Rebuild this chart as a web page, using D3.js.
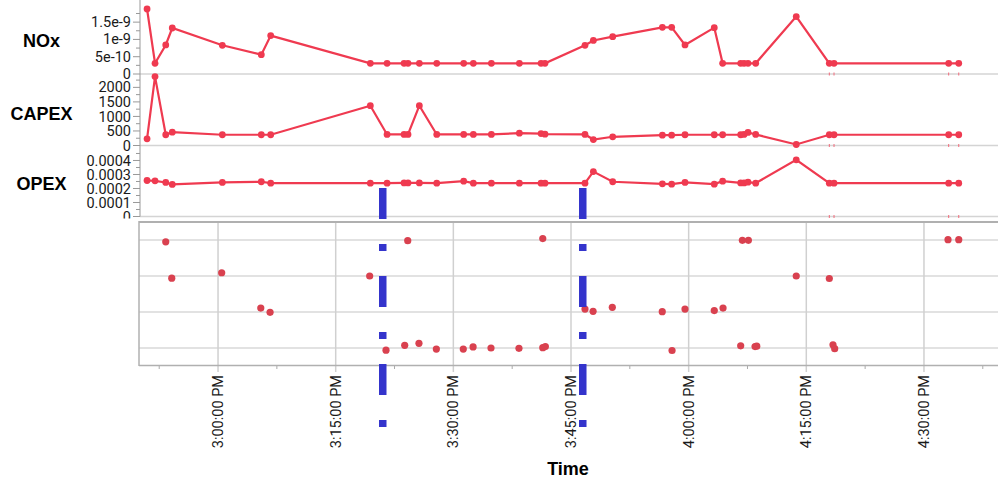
<!DOCTYPE html>
<html>
<head>
<meta charset="utf-8">
<script src="https://cdn.jsdelivr.net/npm/d3@7"></script>
<style>
  body { margin: 0; background: #fff; }
  svg { display: block; }
  .tick-label { font-family: Roboto, "Noto Sans", sans-serif; fill: #1a1a1a; }
  .panel-label { font-family: "Liberation Sans", Arial, sans-serif; font-weight: bold; font-size: 18px; fill: #000; }
</style>
</head>
<body>
<div id="vis_container"></div>
<script>
// sample times shared by the three line panels
var times = ["14:50:57","14:51:58","14:53:20","14:54:10","15:00:33","15:05:31","15:06:43","15:19:25",
    "15:21:33","15:23:43","15:24:13","15:25:40","15:27:53","15:31:19","15:32:33","15:34:51","15:38:25",
    "15:41:11","15:41:41","15:46:47","15:47:51","15:50:19","15:56:39","15:57:50","15:59:32","16:03:16",
    "16:04:20","16:06:38","16:07:04","16:07:34","16:08:33","16:13:43","16:17:56","16:18:32","16:33:09","16:34:26"];

var nox = [1.88e-9, 3.1e-10, 8.4e-10, 1.33e-9, 8.3e-10, 5.6e-10, 1.11e-9,
    3.1e-10, 3.1e-10, 3.1e-10, 3.1e-10, 3.1e-10, 3.1e-10, 3.1e-10, 3.1e-10, 3.1e-10, 3.1e-10, 3.1e-10, 3.1e-10,
    8.3e-10, 9.7e-10, 1.08e-9, 1.35e-9, 1.35e-9, 8.4e-10, 1.34e-9,
    3.1e-10, 3.1e-10, 3.1e-10, 3.1e-10, 3.1e-10, 1.66e-9, 3.1e-10, 3.1e-10, 3.1e-10, 3.1e-10];

var capex = [230, 2370, 370, 460, 370, 370, 370, 1370, 380, 380, 380, 1370, 380, 380, 380, 380, 425, 410,
    390, 380, 205, 300, 355, 355, 370, 370, 370, 370, 380, 450, 380, 35, 370, 370, 370, 370];

var opex = [2.57e-4, 2.55e-4, 2.43e-4, 2.29e-4, 2.43e-4, 2.48e-4, 2.38e-4, 2.38e-4, 2.38e-4, 2.4e-4,
    2.4e-4, 2.4e-4, 2.38e-4, 2.52e-4, 2.38e-4, 2.38e-4, 2.38e-4, 2.38e-4, 2.38e-4, 2.38e-4, 3.21e-4,
    2.48e-4, 2.33e-4, 2.31e-4, 2.43e-4, 2.31e-4, 2.52e-4, 2.4e-4, 2.4e-4, 2.45e-4, 2.38e-4, 4.05e-4,
    2.38e-4, 2.38e-4, 2.38e-4, 2.38e-4];

// bottom panel: category level (1..4 from bottom, jittered) per time
var catTimes = ["14:53:20","14:54:06","15:00:28","15:05:27","15:06:38","15:19:20","15:21:25","15:23:48",
    "15:24:11","15:25:37","15:27:50","15:31:16","15:32:31","15:34:48","15:38:22","15:41:24","15:41:24",
    "15:41:44","15:46:47","15:47:49","15:50:16","15:56:38","15:57:53","15:59:32","16:03:16","16:04:23",
    "16:06:38","16:06:51","16:07:37","16:08:28","16:08:41","16:13:43","16:17:56","16:18:24","16:18:37",
    "16:33:04","16:34:26"];
var catLevel = [3.45, 2.44, 2.59, 1.61, 1.49, 2.5, 0.44, 0.575, 3.48, 0.63, 0.47, 0.47, 0.53, 0.5, 0.49,
    3.54, 0.51, 0.54, 1.58, 1.52, 1.63, 1.51, 0.43, 1.58, 1.54, 1.61, 0.56, 3.49, 3.49, 0.54, 0.55, 2.5,
    2.43, 0.59, 0.48, 3.51, 3.51];

// reference lines and rug marks
var markerTimes = ["15:21:00", "15:46:30"];
var rugTimes = ["16:17:56", "16:18:32", "16:33:09", "16:34:26"];

var noxTicks = [0, 5e-10, 1e-9, 1.5e-9];
var noxLabels = ["0", "5e-10", "1e-9", "1.5e-9"];
var capexTicks = [0, 500, 1000, 1500, 2000];
var capexLabels = ["0", "500", "1000", "1500", "2000"];
var opexTicks = [0, 0.0001, 0.0002, 0.0003, 0.0004];
var opexLabels = ["0", "0.0001", "0.0002", "0.0003", "0.0004"];

var width = 998, height = 479;
var parse = d3.timeParse("%H:%M:%S");
var red = "#ef3a50";

var x = d3.scaleTime()
    .domain([parse("14:50:00"), parse("16:40:00")])
    .range([139.6, 1002.4]);

var svg = d3.select("#vis_container").append("svg")
    .attr("width", width)
    .attr("height", height);

var panels = [
    {name: "NOx", values: nox, ticks: noxTicks, labels: noxLabels, top: 0, bottom: 74, max: 2.14e-9, labelY: 47},
    {name: "CAPEX", values: capex, ticks: capexTicks, labels: capexLabels, top: 74, bottom: 145.5, max: 2460, labelY: 120},
    {name: "OPEX", values: opex, ticks: opexTicks, labels: opexLabels, top: 145.5, bottom: 216.5, max: 0.000507, labelY: 189.5}
];

panels.forEach(function(p) {
    var y = d3.scaleLinear().domain([0, p.max]).range([p.bottom, p.top]);
    var g = svg.append("g");
    var step = p.ticks[1] / 2;
    var minor = d3.range(step, p.max, step * 2);

    // baseline / separator
    g.append("line")
        .attr("x1", 140).attr("x2", width)
        .attr("y1", p.bottom).attr("y2", p.bottom)
        .style("stroke", "#d4d4d4").style("stroke-width", 1.5);

    g.selectAll(".minor").data(minor).enter().append("line")
        .attr("x1", 136).attr("x2", 140)
        .attr("y1", function(d) { return y(d); }).attr("y2", function(d) { return y(d); })
        .style("stroke", "#999");

    g.selectAll(".major").data(p.ticks).enter().append("line")
        .attr("x1", 133).attr("x2", 140)
        .attr("y1", function(d) { return y(d); }).attr("y2", function(d) { return y(d); })
        .style("stroke", "#999");

    g.selectAll(".tick-label").data(p.ticks).enter().append("text")
        .attr("class", "tick-label")
        .attr("x", 131)
        .attr("y", function(d) { return y(d); })
        .attr("dy", "0.35em")
        .style("text-anchor", "end")
        .style("font-size", "14.5px")
        .text(function(d, i) { return p.labels[i]; });

    svg.append("text")
        .attr("class", "panel-label")
        .attr("x", 41.5)
        .attr("y", p.labelY)
        .style("text-anchor", "middle")
        .text(p.name);

    var line = d3.line()
        .x(function(d, i) { return x(parse(times[i])); })
        .y(function(d) { return y(d); });

    g.append("path")
        .datum(p.values)
        .attr("d", line)
        .style("fill", "none")
        .style("stroke", red)
        .style("stroke-width", 2.2);

    g.selectAll(".dot").data(p.values).enter().append("circle")
        .attr("r", 3.4)
        .attr("cx", function(d, i) { return x(parse(times[i])); })
        .attr("cy", function(d) { return y(d); })
        .style("fill", red);

    g.selectAll(".rug").data(rugTimes).enter().append("line")
        .attr("x1", function(d) { return x(parse(d)); })
        .attr("x2", function(d) { return x(parse(d)); })
        .attr("y1", p.bottom - 1.5).attr("y2", p.bottom + 1.5)
        .style("stroke", "#f26a7a").style("stroke-width", 1);
});

// left axis line of the stacked panels
svg.append("line")
    .attr("x1", 140).attr("x2", 140).attr("y1", 0).attr("y2", 216.5)
    .style("stroke", "#999");

// bottom category panel
var yc = d3.scaleLinear().domain([0, 4]).range([366, 222]);
var bottom = svg.append("g");

bottom.append("rect")
    .attr("x", 0).attr("y", 218.5).attr("width", width).attr("height", 148)
    .style("fill", "#fff");

var majors = x.ticks(d3.timeMinute.every(15));
var minors = majors.map(function(d) { return d3.timeSecond.offset(d, -450); })
    .concat([d3.timeSecond.offset(majors[majors.length - 1], 450)]);

bottom.selectAll(".hgrid").data([0.5, 1.5, 2.5, 3.5]).enter().append("line")
    .attr("x1", 139).attr("x2", width)
    .attr("y1", function(d) { return yc(d); }).attr("y2", function(d) { return yc(d); })
    .style("stroke", "#d8d8d8").style("stroke-width", 1.5);

bottom.selectAll(".vgrid").data(majors).enter().append("line")
    .attr("x1", function(d) { return x(d); }).attr("x2", function(d) { return x(d); })
    .attr("y1", 222).attr("y2", 372)
    .style("stroke", "#d0d0d0").style("stroke-width", 1.5);

bottom.selectAll(".minortick").data(minors).enter().append("line")
    .attr("x1", function(d) { return x(d); }).attr("x2", function(d) { return x(d); })
    .attr("y1", 365).attr("y2", 369)
    .style("stroke", "#aaa");

// frame
bottom.append("line").attr("x1", 139).attr("x2", width).attr("y1", 222).attr("y2", 222)
    .style("stroke", "#b0b0b0").style("stroke-width", 2);
bottom.append("line").attr("x1", 139).attr("x2", width).attr("y1", 365.5).attr("y2", 365.5)
    .style("stroke", "#b0b0b0").style("stroke-width", 1.5);
bottom.append("line").attr("x1", 139).attr("x2", 139).attr("y1", 221).attr("y2", 366)
    .style("stroke", "#b0b0b0").style("stroke-width", 1.5);

bottom.selectAll(".cat").data(catLevel).enter().append("circle")
    .attr("r", 3.6)
    .attr("cx", function(d, i) { return x(parse(catTimes[i])); })
    .attr("cy", function(d) { return yc(d); })
    .style("fill", "#d9414f");

// time tick labels, rotated
var fmt = d3.timeFormat("%-I:%M:%S %p");
svg.selectAll(".xlabel").data(majors).enter().append("text")
    .attr("class", "tick-label")
    .attr("transform", function(d) { return "translate(" + x(d) + ",375) rotate(-90)"; })
    .attr("dy", "0.35em")
    .style("text-anchor", "end")
    .style("font-size", "14.5px")
    .text(function(d) { return fmt(d); });

svg.append("text")
    .attr("class", "panel-label")
    .attr("x", 568)
    .attr("y", 475)
    .style("text-anchor", "middle")
    .text("Time");

// dashed blue reference lines
svg.selectAll(".marker").data(markerTimes).enter().append("line")
    .attr("x1", function(d) { return x(parse(d)); })
    .attr("x2", function(d) { return x(parse(d)); })
    .attr("y1", 188).attr("y2", 427)
    .style("stroke", "#3434cc")
    .style("stroke-width", 7.5)
    .style("stroke-dasharray", "31,25,7,25");
</script>
</body>
</html>
